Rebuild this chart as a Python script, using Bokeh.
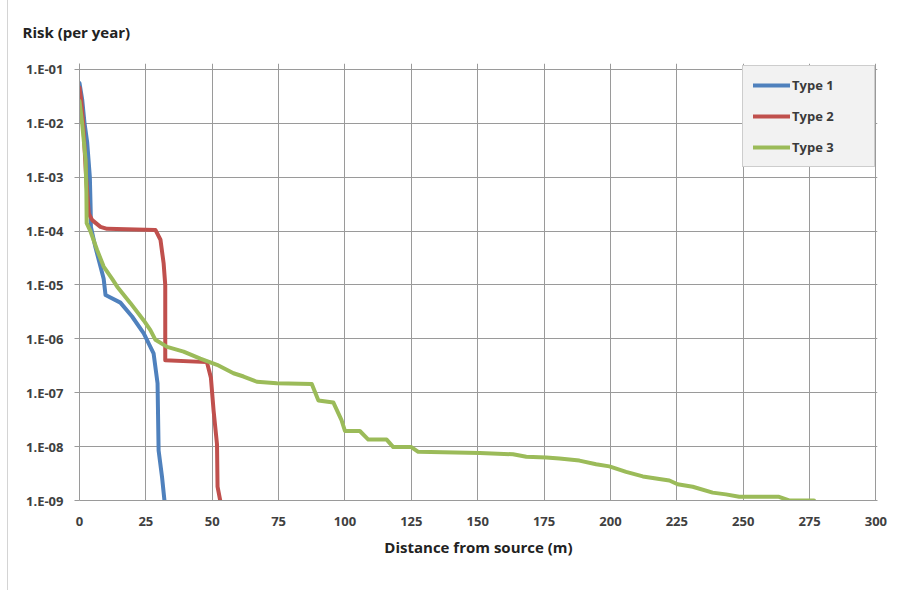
from bokeh.plotting import figure
from bokeh.models import FixedTicker, CustomJSTickFormatter, Legend, LegendItem
from bokeh.embed import file_html
from bokeh.resources import INLINE

# ---- data ----
type1_x = [0, 1, 1.9, 2.9, 3.9, 4.2, 4.3, 6, 7.9, 9.1, 9.8, 15.4, 19.8, 24.2, 27.9, 29.4, 29.8, 31.1, 32]
type1_y = [5.6e-2, 2.8e-2, 1e-2, 4.4e-3, 1e-3, 2.5e-4, 1.2e-4, 5e-5, 2.2e-5, 1.3e-5, 6.5e-6,
           4.7e-6, 2.6e-6, 1.26e-6, 5.4e-7, 1.5e-7, 8.5e-9, 2.7e-9, 1e-9]

type2_x = [0, 0.6, 1.4, 2.5, 3.5, 4.8, 7.9, 10.4, 28.6, 30.5, 31.7, 32.3, 32.3, 32.3,
           48, 49.5, 50.5, 51.8, 52, 53]
type2_y = [4.6e-2, 2.8e-2, 1e-2, 1e-3, 2.1e-4, 1.6e-4, 1.2e-4, 1.1e-4, 1.05e-4, 6.9e-5, 2.5e-5,
           1e-5, 5e-6, 4e-7, 3.7e-7, 1.9e-7, 4.7e-8, 1.1e-8, 1.8e-9, 1e-9]

type3_x = [0, 1, 2.3, 2.6, 2.7, 4.1, 6.6, 9.1, 12.3, 14.2, 19.2, 24.2, 26.7, 28.6, 33, 39.2, 45.5,
           51.8, 58, 61.8, 66.8, 74.3, 87.5, 90, 95.6, 98.7, 100, 105.6, 108.8, 115.7, 118.2,
           125, 127.6, 150.8, 163.3, 168.3, 175.8, 180.8, 188.3, 194.6, 199.6, 205.9, 212.2,
           218.4, 222.2, 225.3, 231, 238.5, 243.5, 248.5, 263.5, 267.3, 276.7]
type3_y = [2.6e-2, 1e-2, 2.1e-3, 5.1e-4, 1.4e-4, 1e-4, 4.5e-5, 2.2e-5, 1.3e-5, 9.3e-6, 4.6e-6,
           2.2e-6, 1.45e-6, 9.6e-7, 7.1e-7, 5.8e-7, 4.3e-7, 3.3e-7, 2.3e-7, 2e-7, 1.6e-7, 1.5e-7,
           1.45e-7, 7.2e-8, 6.6e-8, 3.1e-8, 1.95e-8, 1.95e-8, 1.35e-8, 1.35e-8, 9.8e-9,
           9.8e-9, 8e-9, 7.6e-9, 7.2e-9, 6.5e-9, 6.3e-9, 6e-9, 5.5e-9, 4.7e-9, 4.3e-9, 3.4e-9,
           2.8e-9, 2.5e-9, 2.35e-9, 2.0e-9, 1.8e-9, 1.4e-9, 1.3e-9, 1.17e-9, 1.17e-9, 1e-9, 1e-9]

series_names = ["Type 1", "Type 2", "Type 3"]
series_colors = ["#4F81BD", "#C0504D", "#9BBB59"]

x_ticks = [0, 25, 50, 75, 100, 125, 150, 175, 200, 225, 250, 275, 300]
y_ticks = [1e-9, 1e-8, 1e-7, 1e-6, 1e-5, 1e-4, 1e-3, 1e-2, 1e-1]
y_tick_labels = ["1.E-09", "1.E-08", "1.E-07", "1.E-06", "1.E-05", "1.E-04", "1.E-03", "1.E-02", "1.E-01"]

y_title = "Risk (per year)"
x_title = "Distance from source (m)"

FONT = "Open Sans"
GRID = "#9a9a9a"

p = figure(width=888, height=593, x_range=(0, 300.6), y_range=(1e-9, 0.129),
           y_axis_type="log", output_backend="svg", toolbar_location=None,
           min_border_left=71, min_border_right=19, min_border_top=59, min_border_bottom=90,
           styles={"margin-left": "7px", "margin-top": "-3px",
                   "border-left": "1px solid #d4d4d4"})
p.outline_line_color = None
p.background_fill_color = "white"
p.border_fill_color = "white"

# title used as the y-axis caption (top-left, horizontal)
p.title.text = y_title
p.title.align = "left"
p.title.offset = -57
p.title.standoff = 44
p.title.text_font = FONT
p.title.text_font_size = "15px"
p.title.text_font_style = "bold"
p.title.text_color = "#222222"

# axes
p.xaxis.ticker = FixedTicker(ticks=x_ticks)
p.yaxis.ticker = FixedTicker(ticks=y_ticks)
p.yaxis.formatter = CustomJSTickFormatter(args=dict(labels=y_tick_labels, vals=y_ticks), code="""
    let best = 0, bd = 1e9;
    for (let i = 0; i < vals.length; i++) {
        const d = Math.abs(Math.log10(vals[i]) - Math.log10(tick));
        if (d < bd) { bd = d; best = i; }
    }
    return labels[best];
""")
for ax in (p.xaxis, p.yaxis):
    ax.axis_line_color = GRID
    ax.major_tick_line_color = GRID
    ax.minor_tick_line_color = None
    ax.major_label_text_font = FONT
    ax.major_label_text_font_size = "13px"
    ax.major_label_text_font_style = "bold"
    ax.major_label_text_color = "#404040"
p.xaxis.major_tick_out = 0
p.xaxis.major_tick_in = 0
p.xaxis.major_label_standoff = 16
p.yaxis.major_tick_out = 5
p.yaxis.major_tick_in = 0
p.yaxis.major_label_standoff = 11

p.xaxis.axis_label = x_title
p.xaxis.axis_label_text_font = FONT
p.xaxis.axis_label_text_font_size = "15px"
p.xaxis.axis_label_text_font_style = "bold"
p.xaxis.axis_label_text_color = "#222222"
p.xaxis.axis_label_standoff = 8

p.xgrid.grid_line_color = GRID
p.ygrid.grid_line_color = GRID

xs = [type1_x, type2_x, type3_x]
ys = [type1_y, type2_y, type3_y]
items = []
for name, color, x, y in zip(series_names, series_colors, xs, ys):
    r = p.line(x, y, line_color=color, line_width=4, line_join="round", line_cap="round")
    items.append(LegendItem(label=name, renderers=[r]))

legend = Legend(items=items, location="top_right", margin=2, padding=10, spacing=13,
                glyph_height=14, glyph_width=37, label_standoff=2, label_width=72,
                label_text_font=FONT, label_text_font_size="13px", label_text_font_style="bold",
                label_text_color="#3a3a3a",
                background_fill_color="#f2f2f2", background_fill_alpha=1,
                border_line_color="#a8a8a8", border_line_width=1)
p.add_layout(legend)

open("out.html", "w").write(file_html(p, INLINE))
